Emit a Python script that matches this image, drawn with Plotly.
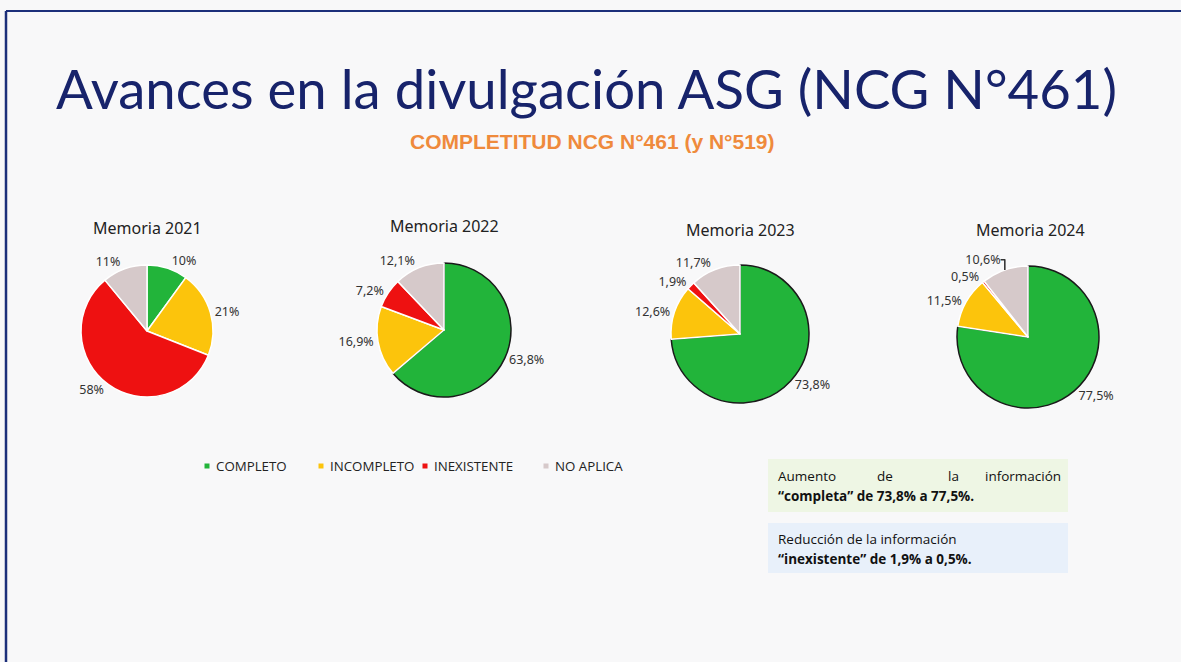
import plotly.graph_objects as go

W, H = 1181, 662

categories = ["COMPLETO", "INCOMPLETO", "INEXISTENTE", "NO APLICA"]
colors = ["#22b43a", "#fcc40c", "#ee1111", "#d6c9ca"]
years = ["Memoria 2021", "Memoria 2022", "Memoria 2023", "Memoria 2024"]
values_2021 = [10, 21, 58, 11]
values_2022 = [63.8, 16.9, 7.2, 12.1]
values_2023 = [73.8, 12.6, 1.9, 11.7]
values_2024 = [77.5, 11.5, 0.5, 10.6]
series = [values_2021, values_2022, values_2023, values_2024]
label_formats = ["%{value:.0f}%", "%{value:.1f}%", "%{value:.1f}%", "%{value:.1f}%"]

# layout: pie centres / radii (pixels) and title positions
pie_geom = [(147, 331, 66), (444, 330, 67), (740, 334, 69), (1028, 337, 71)]
title_pos = [(147, 228), (444, 226), (740, 230), (1030, 230)]


def px(x):
    return x / W


def py(y):
    return 1 - y / H


fig = go.Figure()
for i, vals in enumerate(series):
    cx, cy, r = pie_geom[i]
    line_cols = ["#ffffff"] * len(vals)
    line_w = [1.5] * len(vals)
    if i > 0:
        line_cols[0] = "#1a1a1a"
        line_w[0] = 1.5
    fig.add_trace(go.Pie(
        labels=categories,
        values=vals,
        sort=False,
        direction="clockwise",
        rotation=0,
        marker=dict(colors=colors, line=dict(color=line_cols, width=line_w)),
        texttemplate=label_formats[i],
        textposition="outside",
        textfont=dict(family="Noto Sans", size=12.5, color="#333333"),
        domain=dict(x=[px(cx - r), px(cx + r)], y=[py(cy + r), py(cy - r)]),
        showlegend=False,
        hoverinfo="label+percent",
    ))

annotations = []
# main title
annotations.append(dict(
    x=px(586), y=py(88), xref="paper", yref="paper", showarrow=False,
    text="Avances en la divulgación ASG (NCG N°461)",
    font=dict(family="Lato", size=54.5, color="#17236b"),
    xanchor="center", yanchor="middle"))
# subtitle
annotations.append(dict(
    x=px(592), y=py(141), xref="paper", yref="paper", showarrow=False,
    text="<b>COMPLETITUD NCG N°461 (y N°519)</b>",
    font=dict(family="Liberation Sans", size=21, color="#ef8a3c"),
    xanchor="center", yanchor="middle"))
# pie titles
for (tx, ty), t in zip(title_pos, years):
    annotations.append(dict(
        x=px(tx), y=py(ty), xref="paper", yref="paper", showarrow=False,
        text=t, font=dict(family="Noto Sans", size=16, color="#222222"),
        xanchor="center", yanchor="middle"))

shapes = [
    # slide frame (top and left)
    dict(type="line", xref="paper", yref="paper", x0=px(6), x1=1, y0=py(11), y1=py(11),
         line=dict(color="#1c2f7a", width=2)),
    dict(type="line", xref="paper", yref="paper", x0=px(6), x1=px(6), y0=py(11), y1=0,
         line=dict(color="#1c2f7a", width=2.5)),
    # text boxes
    dict(type="rect", xref="paper", yref="paper", x0=px(768), x1=px(1068), y0=py(512), y1=py(459),
         fillcolor="#eef6e4", line=dict(width=0), layer="below"),
    dict(type="rect", xref="paper", yref="paper", x0=px(768), x1=px(1068), y0=py(573), y1=py(523),
         fillcolor="#e8f0fa", line=dict(width=0), layer="below"),
]

# legend (manual): small square marker + label
legend_x = [207, 321, 425, 546]
legend_y = 466
for lx, cat, col in zip(legend_x, categories, colors):
    shapes.append(dict(
        type="rect", xref="paper", yref="paper",
        x0=px(lx - 2.5), x1=px(lx + 2.5), y0=py(legend_y + 2.5), y1=py(legend_y - 2.5),
        fillcolor=col, line=dict(width=0)))
    annotations.append(dict(
        x=px(lx + 7), y=py(legend_y), xref="paper", yref="paper", showarrow=False,
        text=cat, font=dict(family="Open Sans", size=13.3, color="#222222"),
        xanchor="left", yanchor="middle"))

# text boxes
box_font = dict(family="Open Sans", size=13.5, color="#111111")
for word, wx, anc in [("Aumento", 776, "left"), ("de", 885, "center"),
                      ("la", 953, "center"), ("información", 1063, "right")]:
    annotations.append(dict(
        x=px(wx), y=py(476), xref="paper", yref="paper", showarrow=False,
        text=word, font=box_font, xanchor=anc, yanchor="middle"))
annotations.append(dict(
    x=px(776), y=py(496), xref="paper", yref="paper", showarrow=False,
    text="<b>“completa” de 73,8% a 77,5%.</b>", font=box_font,
    xanchor="left", yanchor="middle"))
annotations.append(dict(
    x=px(776), y=py(539), xref="paper", yref="paper", showarrow=False,
    text="Reducción de la información", font=box_font,
    xanchor="left", yanchor="middle"))
annotations.append(dict(
    x=px(776), y=py(559), xref="paper", yref="paper", showarrow=False,
    text="<b>“inexistente” de 1,9% a 0,5%.</b>", font=box_font,
    xanchor="left", yanchor="middle"))

fig.update_layout(
    width=W, height=H,
    margin=dict(l=0, r=0, t=0, b=0),
    paper_bgcolor="#f8f8f9",
    plot_bgcolor="#f8f8f9",
    separators=",.",
    annotations=annotations,
    shapes=shapes,
)

fig.write_html(
    "out.html",
    config={"displayModeBar": False},
    post_script="document.body.style.margin='0';document.body.style.overflow='hidden';",
)
